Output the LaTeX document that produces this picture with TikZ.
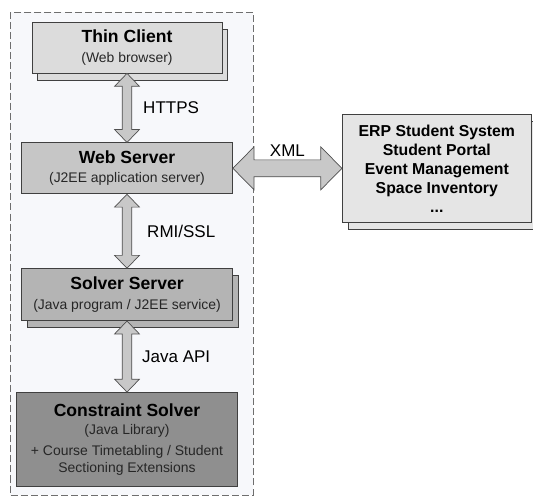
\documentclass[tikz,border=0pt]{standalone}
\usepackage{fontspec}
\setmainfont{Liberation Sans}
\usetikzlibrary{positioning,calc,shadows}

\definecolor{boxline}{HTML}{404040}
\definecolor{clientgray}{HTML}{DCDCDC}
\definecolor{webgray}{HTML}{C6C6C6}
\definecolor{solvergray}{HTML}{B4B4B4}
\definecolor{coregray}{HTML}{8F8F8F}
\definecolor{erpgray}{HTML}{E5E5E5}
\definecolor{arrowfill}{HTML}{C8C8C8}
\definecolor{arrowline}{HTML}{505050}
\definecolor{framefill}{HTML}{F7F8FB}
\definecolor{framedash}{HTML}{6E6E6E}

\newcommand{\tiertitle}{\fontsize{15}{18}\selectfont\bfseries}
\newcommand{\tiersub}{\fontsize{11.9}{14.5}\selectfont\mdseries\color{black!85}}
\newcommand{\erpfont}{\fontsize{13.5}{16.2}\selectfont\bfseries}

% fat double arrow: from, to, head length, half head width, half shaft width
\newcommand{\fatarrow}[5]{%
  \draw[fatarr] (#1)
    -- ($(#1)!#3!(#2)!#4!90:(#2)$) -- ($(#1)!#3!(#2)!#5!90:(#2)$)
    -- ($(#2)!#3!(#1)!#5!-90:(#1)$) -- ($(#2)!#3!(#1)!#4!-90:(#1)$)
    -- (#2)
    -- ($(#2)!#3!(#1)!#4!90:(#1)$) -- ($(#2)!#3!(#1)!#5!90:(#1)$)
    -- ($(#1)!#3!(#2)!#5!-90:(#2)$) -- ($(#1)!#3!(#2)!#4!-90:(#2)$)
    -- cycle;}

\begin{document}
\begin{tikzpicture}[
      x=0.03cm, y=-0.03cm,
      tier/.style={draw=boxline, line width=0.7pt, align=center, minimum height=1.53cm, inner sep=2pt, font=\fontsize{11.9}{14.5}\selectfont},
      stacked/.style={copy shadow={shadow xshift=0.17cm, shadow yshift=-0.21cm, draw=boxline, line width=0.7pt, fill=#1}},
      fatarr/.style={draw=arrowline, fill=arrowfill, line width=0.6pt},
      proto/.style={font=\fontsize{14.5}{17}\selectfont, inner sep=0pt},
      frame/.style={draw=framedash, fill=framefill, line width=0.6pt, dash pattern=on 6pt off 2.6pt}
  ]
    \useasboundingbox (0,0) rectangle (533,497);
    \draw [frame] (10,12) rectangle (253,495);

    % Tiers
    \node [tier, stacked=clientgray, fill=clientgray, minimum width=5.7cm] (client) at (127,47.5)
      {\tiertitle Thin Client\\[2pt]\tiersub (Web browser)};
    \node [tier, fill=webgray, minimum width=6.33cm, below=2.07cm of client] (web)
      {\tiertitle Web Server\\[2pt]\tiersub (J2EE application server)};
    \node [tier, stacked=solvergray, fill=solvergray, minimum width=6.33cm, minimum height=1.56cm, below=2.22cm of web] (solver)
      {\tiertitle Solver Server\\[2pt]\tiersub (Java program / J2EE service)};
    \node [tier, fill=coregray, minimum width=6.63cm, minimum height=2.82cm, below=2.13cm of solver] (core)
      {\tiertitle Constraint Solver\\[1.2pt]\tiersub (Java Library)\\[3.4pt]\tiersub + Course Timetabling / Student\\\tiersub Sectioning Extensions};
    \node [tier, stacked=erpgray, fill=erpgray, minimum width=5.67cm, minimum height=3.24cm, font=\erpfont, right=3.27cm of web] (erp)
      {ERP Student System\\Student Portal\\Event Management\\Space Inventory\\...};

    % Connections
    \fatarrow{client.south}{web.north}{11pt}{10.6pt}{4.1pt}
    \fatarrow{web.south}{solver.north}{11pt}{10.6pt}{4.1pt}
    \fatarrow{solver.south}{core.north}{11pt}{10.6pt}{4.1pt}
    \fatarrow{web.east}{erp.west}{18pt}{18.3pt}{7.2pt}

    \node [proto, anchor=west] (https) at ($(client.south)!0.5!(web.north)+(16,0)$) {HTTPS};
    \node [proto, anchor=west] (rmi) at ($(web.south)!0.5!(solver.north)+(20,0)$) {RMI/SSL};
    \node [proto, anchor=west] (japi) at ($(solver.south)!0.5!(core.north)+(15,0)$) {Java API};
    \node [proto] (xml) at ($(web.east)!0.5!(erp.west)+(0,-18)$) {XML};
  \end{tikzpicture}
\end{document}
